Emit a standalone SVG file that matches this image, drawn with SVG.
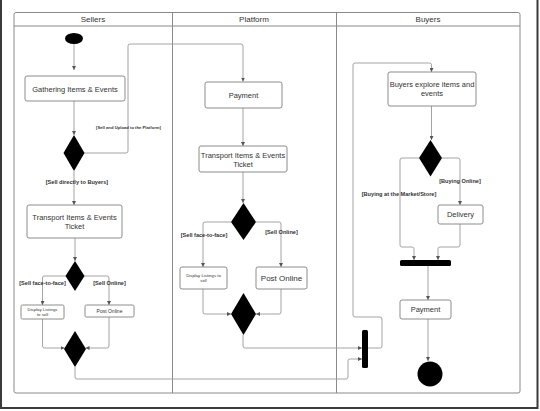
<svg xmlns="http://www.w3.org/2000/svg" width="540" height="411" viewBox="0 0 540 411">
<style>
.frame{fill:none;stroke:#3a3a3a;stroke-width:2}
.lane{fill:none;stroke:#8a8a8a;stroke-width:1}
.hdr{font-family:"Liberation Sans",Arial,sans-serif;font-size:8px;fill:#333;text-anchor:middle}
.box{fill:#fff;stroke:#808080;stroke-width:0.9}
.t{font-family:"Liberation Sans",Arial,sans-serif;font-size:7.5px;fill:#333;text-anchor:middle}
.ts{font-family:"Liberation Sans",Arial,sans-serif;font-size:4.3px;fill:#333;text-anchor:middle}
.lbl{font-family:"Liberation Sans",Arial,sans-serif;font-size:5.6px;font-weight:bold;fill:#333;text-anchor:middle}
.lbls{font-family:"Liberation Sans",Arial,sans-serif;font-size:4.2px;font-weight:bold;fill:#333;text-anchor:middle}
.blk{fill:#000}
.c{fill:none;stroke:#9a9a9a;stroke-width:0.9;stroke-linejoin:round;marker-end:url(#ah)}
.cn{fill:none;stroke:#9a9a9a;stroke-width:0.9;stroke-linejoin:round}
</style>
<defs>
<marker id="ah" viewBox="0 0 6 6" refX="6" refY="3" markerWidth="4" markerHeight="4" markerUnits="userSpaceOnUse" orient="auto">
<path d="M0,0 L6,3 L0,6 z" fill="#555"/>
</marker>
</defs>
<rect width="540" height="411" fill="#fff"/>
<g id="frame">
<path class="frame" d="M1,0 V408 H537.5 V0"/>
</g>
<g id="lanes">
<rect class="lane" x="14" y="12.5" width="506" height="380.5" rx="2"/>
<line class="lane" x1="14" y1="26" x2="520" y2="26"/>
<line class="lane" x1="172.5" y1="12.5" x2="172.5" y2="393"/>
<line class="lane" x1="336.5" y1="12.5" x2="336.5" y2="393"/>
<text class="hdr" x="93" y="22">Sellers</text>
<text class="hdr" x="254" y="22">Platform</text>
<text class="hdr" x="428" y="22">Buyers</text>
</g>
<g id="connectors">
<path class="c" d="M74,44 V70"/>
<path class="c" d="M74,101 V135"/>
<path class="cn" d="M84,153 H126 Q128,153 128,151 V46 Q128,44 130,44 H241 Q243,44 243,46"/>
<path class="c" d="M243,46 V81.5"/>
<path class="c" d="M74,171 V205"/>
<path class="c" d="M75,238 V261"/>
<path class="c" d="M66,276 H44 Q42.5,276 42.5,278 V305"/>
<path class="c" d="M84,276 H107 Q109,276 109,278 V305"/>
<path class="c" d="M42.5,319 V346 Q42.5,348 44.5,348 H64.5"/>
<path class="c" d="M109,317 V346 Q109,348 107,348 H85.5"/>
<path class="c" d="M75,367 V377 Q75,379 77,379 H346 Q348,379 348,377 V361 Q348,359 350,359 H362"/>
<path class="c" d="M243,108 V146"/>
<path class="c" d="M243,172 V203"/>
<path class="c" d="M231,222 H205 Q203,222 203,224 V267"/>
<path class="c" d="M256,222 H279 Q281,222 281,224 V267"/>
<path class="c" d="M203,289 V312 Q203,314 205,314 H231"/>
<path class="c" d="M281,289 V312 Q281,314 279,314 H256"/>
<path class="c" d="M243,335 V346 Q243,348 245,348 H362"/>
<path class="cn" d="M368,348 H380 Q382,348 382,346 V319 Q382,317 380,317 H355 Q353,317 353,315 V65 Q353,63 355,63 H429.5 Q431.5,63 431.5,65"/>
<path class="c" d="M431.5,65 V72"/>
<path class="c" d="M431.5,106 V140"/>
<path class="c" d="M419,158 H402 Q400,158 400,160 V245 Q400,247 402,247 H412 Q414,247 414,249 V260"/>
<path class="c" d="M442,158 H458 Q460,158 460,160 V205"/>
<path class="c" d="M460,224 V245 Q460,247 458,247 H440 Q438,247 438,249 V260"/>
<path class="c" d="M428,266 V300"/>
<path class="c" d="M428,319 V361"/>
</g>
<g id="start"><ellipse class="blk" cx="74" cy="38.5" rx="9" ry="5.5"/></g>
<g id="gather">
<rect class="box" x="25" y="76" width="100" height="25" rx="2"/>
<text class="t" x="75" y="91.5">Gathering Items &amp; Events</text>
</g>
<g id="dec1"><path class="blk" d="M74,135 L84.5,153 L74,171 L63.5,153 z"/></g>
<text class="lbls" x="128.5" y="128.5">[Sell and Upload to the Platform]</text>
<text class="lbl" x="77" y="184">[Sell directly to Buyers]</text>
<g id="transport1">
<rect class="box" x="27" y="205" width="95" height="33" rx="2"/>
<text class="t" x="74.5" y="220">Transport Items &amp; Events</text>
<text class="t" x="74.5" y="229">Ticket</text>
</g>
<g id="dec2"><path class="blk" d="M75,261 L84.5,276 L75,291 L65.5,276 z"/></g>
<text class="lbl" x="42.5" y="285">[Sell face-to-face]</text>
<text class="lbl" x="109.5" y="284.5">[Sell Online]</text>
<g id="display1">
<rect class="box" x="21" y="305" width="43" height="14" rx="1.5"/>
<text class="ts" x="42.5" y="310.5">Display Listings</text>
<text class="ts" x="42.5" y="315.5">to sell</text>
</g>
<g id="post1">
<rect class="box" x="85" y="305" width="49" height="12" rx="1.5"/>
<text class="ts" x="109.5" y="312.5" style="font-size:5px">Post Online</text>
</g>
<g id="merge1"><path class="blk" d="M75,331 L86,349 L75,367 L64,349 z"/></g>
<g id="payment1">
<rect class="box" x="205" y="82" width="77" height="26" rx="2"/>
<text class="t" x="243.5" y="97.5">Payment</text>
</g>
<g id="transport2">
<rect class="box" x="199" y="146" width="88" height="26" rx="2"/>
<text class="t" x="243" y="157.5">Transport Items &amp; Events</text>
<text class="t" x="243" y="166.5">Ticket</text>
</g>
<g id="dec3"><path class="blk" d="M243.5,203 L256,222 L243.5,240 L231,222 z"/></g>
<text class="lbl" x="204" y="236.5">[Sell face-to-face]</text>
<text class="lbl" x="281.5" y="233.5">[Sell Online]</text>
<g id="display2">
<rect class="box" x="180" y="267" width="47" height="22" rx="2"/>
<text class="ts" x="203.5" y="277">Display Listings to</text>
<text class="ts" x="203.5" y="282">sell</text>
</g>
<g id="post2">
<rect class="box" x="256" y="267" width="51" height="22" rx="2"/>
<text class="t" x="281.5" y="281" style="font-size:8px">Post Online</text>
</g>
<g id="merge2"><path class="blk" d="M243.5,293 L256,314 L243.5,335 L231,314 z"/></g>
<g id="join1"><rect class="blk" x="362" y="330" width="6" height="38" rx="1.5"/></g>
<g id="explore">
<rect class="box" x="388" y="72" width="88" height="34" rx="2"/>
<text class="t" x="432" y="87">Buyers explore items and</text>
<text class="t" x="432" y="96">events</text>
</g>
<g id="dec4"><path class="blk" d="M430.5,140 L442,158 L430.5,176.5 L419,158 z"/></g>
<text class="lbl" x="460" y="183">[Buying Online]</text>
<text class="lbl" x="399" y="196">[Buying at the Market/Store]</text>
<g id="delivery">
<rect class="box" x="438" y="205" width="45" height="19" rx="2"/>
<text class="t" x="460.5" y="217">Delivery</text>
</g>
<g id="join2"><rect class="blk" x="400" y="260" width="51" height="6" rx="1.5"/></g>
<g id="payment2">
<rect class="box" x="400" y="300" width="51" height="19" rx="2"/>
<text class="t" x="425.5" y="312">Payment</text>
</g>
<g id="end"><circle class="blk" cx="430" cy="374" r="12.5"/></g>
</svg>
